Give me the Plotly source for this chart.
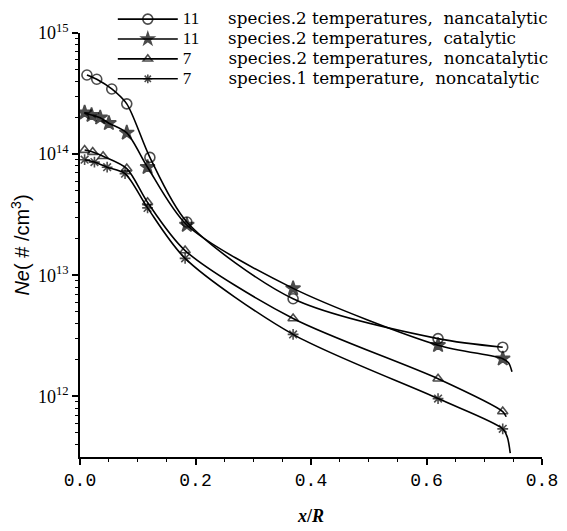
import plotly.graph_objects as go

# x/R positions and electron number density (#/cm^3)
x_11_2T_noncat = [0.012, 0.029, 0.055, 0.081, 0.121, 0.185, 0.369, 0.62, 0.732]
y_11_2T_noncat = [4.5e14, 4.15e14, 3.45e14, 2.6e14, 9.4e13, 2.75e13, 6.4e12, 3.0e12, 2.55e12]

x_11_2T_cat = [0.008, 0.02, 0.035, 0.05, 0.081, 0.117, 0.185, 0.369, 0.62, 0.732, 0.742, 0.748]
y_11_2T_cat = [2.2e14, 2.1e14, 2.0e14, 1.8e14, 1.5e14, 7.8e13, 2.6e13, 7.8e12, 2.65e12, 2.05e12, 1.9e12, 1.6e12]
m_11_2T_cat = [1, 1, 1, 1, 1, 1, 1, 1, 1, 1, 0, 0]

x_7_2T_noncat = [0.008, 0.022, 0.04, 0.081, 0.117, 0.182, 0.369, 0.62, 0.732, 0.738]
y_7_2T_noncat = [1.08e14, 1.04e14, 9.6e13, 7.6e13, 4.0e13, 1.6e13, 4.4e12, 1.4e12, 7.5e11, 6.8e11]
m_7_2T_noncat = [1, 1, 1, 1, 1, 1, 1, 1, 1, 0]

x_7_1T_noncat = [0.008, 0.025, 0.047, 0.078, 0.117, 0.182, 0.369, 0.62, 0.732, 0.74, 0.745]
y_7_1T_noncat = [9.0e13, 8.6e13, 7.8e13, 6.9e13, 3.6e13, 1.38e13, 3.25e12, 9.6e11, 5.4e11, 4.6e11, 3.4e11]
m_7_1T_noncat = [1, 1, 1, 1, 1, 1, 1, 1, 1, 0, 0]

legend_numbers = ["11", "11", "7", "7"]
legend_texts = [
    "species.2 temperatures,&nbsp;&nbsp;nancatalytic",
    "species.2 temperatures,&nbsp;&nbsp;catalytic",
    "species.2 temperatures,&nbsp;&nbsp;noncatalytic",
    "species.1 temperature,&nbsp;&nbsp;noncatalytic",
]

y_tickvals = [1e12, 1e13, 1e14, 1e15]
y_ticktext = ["10<sup>12</sup>", "10<sup>13</sup>", "10<sup>14</sup>", "10<sup>15</sup>"]
y_minor_vals = [m * 10 ** d for d in (11, 12, 13, 14) for m in range(2, 10)]
x_tickvals = [0.0, 0.2, 0.4, 0.6, 0.8]
x_ticktext = ["0.0", "0.2", "0.4", "0.6", "0.8"]

SERIF = "Liberation Serif"
LEG = "DejaVu Serif"


def legend_label(num, text):
    pad = "&nbsp;" * (7 if len(num) == 2 else 9)
    return (f'<span style="font-size:17px;font-family:{SERIF}">{num}</span>{pad}'
            f'<span style="font-size:16.8px">{text}</span>')


fig = go.Figure()


def add(xs, ys, idx, symbol, size, mask=None):
    mask = mask or [1] * len(xs)
    sizes = [size if m else 0 for m in mask]
    fig.add_trace(go.Scatter(
        x=xs, y=ys, name=legend_label(legend_numbers[idx], legend_texts[idx]),
        mode="lines+markers",
        line=dict(color="black", width=1.6, shape="spline", smoothing=0.8),
        marker=dict(symbol=symbol, size=sizes, color="black",
                    line=dict(color="black", width=1.6)),
    ))


add(x_11_2T_noncat, y_11_2T_noncat, 0, "circle-open", 10)
add(x_11_2T_cat, y_11_2T_cat, 1, "star", 11, m_11_2T_cat)
add(x_7_2T_noncat, y_7_2T_noncat, 2, "triangle-up-open", 9, m_7_2T_noncat)
add(x_7_1T_noncat, y_7_1T_noncat, 3, "asterisk-open", 9, m_7_1T_noncat)

fig.update_layout(
    width=559, height=523,
    margin=dict(l=72, r=25, t=25, b=74, autoexpand=False),
    paper_bgcolor="white", plot_bgcolor="white",
    font=dict(family=SERIF, color="black", size=16),
    showlegend=True,
    legend=dict(x=0.071, y=1.068, xanchor="left", yanchor="top",
                font=dict(family=LEG, size=13, color="black"),
                bgcolor="rgba(0,0,0,0)", tracegroupgap=0, itemwidth=60),
    xaxis=dict(
        range=[0, 0.8], tickvals=x_tickvals, ticktext=x_ticktext,
        automargin=False,
        showline=True, linecolor="black", linewidth=1.5, mirror=False,
        ticks="outside", ticklen=6, tickwidth=1.5, tickcolor="black",
        minor=dict(dtick=0.05, ticks="outside", ticklen=3, tickcolor="black", tickwidth=1),
        showgrid=False, zeroline=False,
        tickfont=dict(family="Liberation Mono", size=18),
        title=dict(text="<b><i>x</i>/<i>R</i></b>", font=dict(family=SERIF, size=18), standoff=19),
    ),
    yaxis=dict(
        type="log", range=[11.5, 15],
        tickvals=y_tickvals, ticktext=y_ticktext,
        automargin=False,
        showline=True, linecolor="black", linewidth=1.5,
        ticks="outside", ticklen=6, tickwidth=1.5, tickcolor="black",
        minor=dict(tickvals=y_minor_vals, ticks="outside", ticklen=3,
                   tickcolor="black", tickwidth=1, showgrid=False),
        showgrid=False, zeroline=False,
        tickfont=dict(family=SERIF, size=18),
        title=dict(text="<i>Ne</i>(&nbsp;#&nbsp;/cm<sup>3</sup>)",
                   font=dict(family="Liberation Sans", size=20), standoff=12),
    ),
)

fig.write_html("out.html")
